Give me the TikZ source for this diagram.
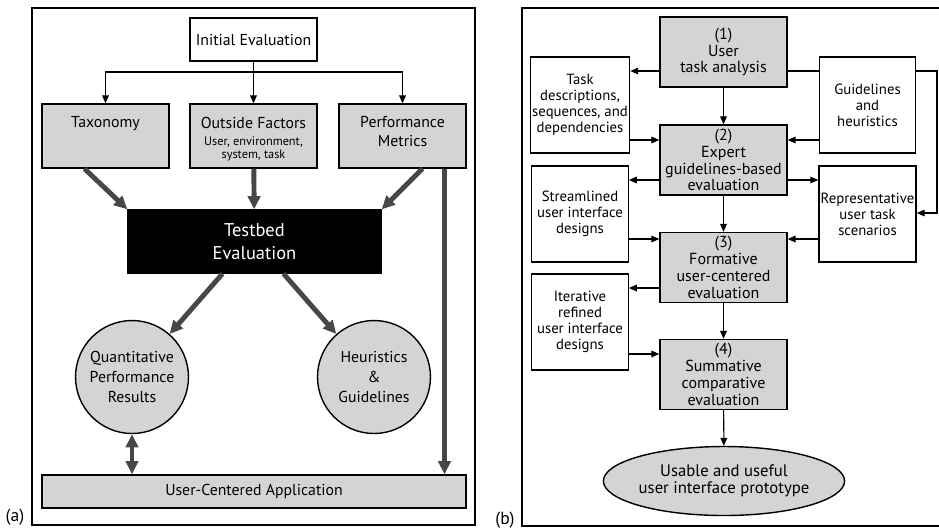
\documentclass[tikz,border=0pt]{standalone}
\usepackage{fontspec}
\setmainfont{PT Sans}
\usetikzlibrary{arrows.meta, calc, shapes.geometric}

\definecolor{boxgray}{gray}{0.83}
\definecolor{arrowgray}{gray}{0.28}

\newcommand{\factorfont}{\fontsize{7}{7.6}\selectfont}

\tikzset{%
  % Specifications for style of nodes:
         base/.style = {rectangle, draw = black, line width=0.8pt, align=center, inner sep=1pt, font=\fontsize{9}{10.8}\selectfont},
       topbox/.style 2 args = {base, fill=boxgray, minimum width=2.54cm, minimum height=1.28cm, text height=#1, text depth=#2},
      testbox/.style = {base, fill=black, text=white, minimum width=5.06cm, minimum height=1.26cm, font=\fontsize{10.5}{13}\selectfont},
      roundbox/.style = {circle, draw = black, line width=0.8pt, fill=boxgray, align=center, inner sep=0pt, minimum size=2.26cm, font=\fontsize{9}{11.4}\selectfont},
      stepbox/.style = {base, fill=boxgray, minimum width=2.54cm, minimum height=1.4cm, font=\fontsize{9.1}{9.6}\selectfont},
      notebox/.style = {base, fill=white, minimum width=1.93cm, minimum height=1.92cm, font=\fontsize{8.4}{9.1}\selectfont},
  % Specifications for style of arrows:
    thinarrow/.style = {-{Triangle[length=4.5pt, width=3.8pt]}, line width=0.6pt},
     thinline/.style = {line width=0.6pt},
     fatarrow/.style = {-{Triangle[length=7.5pt, width=7pt]}, line width=2.8pt, draw=arrowgray},
    fatarrows/.style = {{Triangle[length=7.5pt, width=7pt]}-{Triangle[length=7.5pt, width=7pt]}, line width=2.8pt, draw=arrowgray},
}

\begin{document}
\begin{tikzpicture}[x=0.02cm, y=-0.02cm]
    \useasboundingbox (0,0) rectangle (939,529);

    % Draw frames
    \draw[line width=0.8pt] (32,8) rectangle (475,525);
    \draw[line width=0.8pt] (939,8) -- (522,8) -- (522,526) -- (939,526);

    % Draw nodes (a)
    \node (init)   [base, minimum width=2.54cm, minimum height=0.86cm] at (253.5,39.5) {Initial Evaluation};
    \node (tax)    [topbox={7pt}{16.2pt}] at (105.5,136) {Taxonomy};
    \node (out)    [topbox={26.2pt}{1pt}] at (253.5,136) {Outside Factors\\[-1pt]\factorfont User, environment,\\[-3.5pt]\factorfont system, task};
    \node (perf)   [topbox={19pt}{6.6pt}] at (402.5,136) {Performance\\Metrics};
    \node (tb)     [testbox] at (254.5,241.5) {Testbed\\Evaluation};
    \node (quant)  [roundbox] at (132,377) {Quantitative\\Performance\\Results};
    \node (heur)   [roundbox] at (374,377) {Heuristics\\\&\\Guidelines};
    \node (uca)    [base, fill=boxgray, minimum width=8.48cm, minimum height=0.66cm] at (254,491.5) {User-Centered Application};
    \node (lblA)   [font=\fontsize{10}{12}\selectfont, inner sep=0pt] at (15,517) {(a)};

    % Draw arrows (a)
    \coordinate (split) at (253.5,72);
    \draw[thinarrow] (init) -- (out);
    \draw[thinarrow] (split) -| (tax);
    \draw[thinarrow] (split) -| (perf);

    \draw[fatarrow] ($(tax.south)+(-21,0)$) -- (tb.north west);
    \draw[fatarrow] (out) -- (tb);
    \draw[fatarrow] ($(perf.south)+(20,0)$) -- (tb.north east);
    \coordinate (pm) at ($(perf.south)+(42,0)$);
    \draw[fatarrow] (pm) -- (pm |- uca.north);
    \draw[fatarrow] ($(tb.south)+(-32,0)$) -- (quant);
    \draw[fatarrow] ($(tb.south)+(29,0)$) -- (heur);
    \draw[fatarrows] (quant) -- (quant |- uca.north);

    % Draw nodes (b)
    \node (b1)     [stepbox] at (723.5,52)    {(1)\\User\\task analysis};
    \node (b2)     [stepbox] at (723.5,160)   {(2)\\Expert\\guidelines-based\\evaluation};
    \node (b3)     [stepbox] at (723.5,267.5) {(3)\\Formative\\user-centered\\evaluation};
    \node (b4)     [stepbox] at (723.5,374.5) {(4)\\Summative\\comparative\\evaluation};
    \node (task)   [notebox] at (580,105)   {Task\\descriptions,\\sequences, and\\dependencies};
    \node (guide)  [notebox] at (867.5,105) {Guidelines\\and\\heuristics};
    \node (stream) [notebox] at (580,214)   {Streamlined\\user interface\\designs};
    \node (rep)    [notebox] at (867.5,214) {Representative\\user task\\scenarios};
    \node (iter)   [notebox] at (580,322)   {Iterative\\refined\\user interface\\designs};
    \node (proto)  [ellipse, draw = black, line width=0.8pt, fill=boxgray, align=center, inner sep=0pt,
                    minimum width=3.86cm, minimum height=1.38cm, font=\fontsize{9.5}{9.6}\selectfont] at (724,481)
                   {Usable and useful\\user interface prototype};
    \node (lblB)   [font=\fontsize{10}{12}\selectfont, inner sep=0pt] at (505,520) {(b)};

    % Draw arrows (b)
    \coordinate (turn) at (937,71);
    \draw[thinarrow] (b1.west |- 0,71) -- (task.east |- 0,71);
    \draw[thinline]  (b1.east |- 0,71) -- (guide.west |- 0,71);
    \draw[thinarrow] (guide.east |- turn) -- (turn) |- (rep.east |- 0,213);
    \draw[thinarrow] (b1) -- (b2);
    \draw[thinarrow] (task.east |- 0,140) -- (b2.west |- 0,140);
    \draw[thinarrow] (guide.west |- 0,140) -- (b2.east |- 0,140);
    \draw[thinarrow] (b2.west |- 0,180) -- (stream.east |- 0,180);
    \draw[thinarrow] (b2.east |- 0,180) -- (rep.west |- 0,180);
    \draw[thinarrow] (b2) -- (b3);
    \draw[thinarrow] (stream.east |- 0,239) -- (b3.west |- 0,239);
    \draw[thinarrow] (rep.west |- 0,239) -- (b3.east |- 0,239);
    \draw[thinarrow] (b3.west |- 0,288) -- (iter.east |- 0,288);
    \draw[thinarrow] (b3) -- (b4);
    \draw[thinarrow] (iter.east |- 0,354) -- (b4.west |- 0,354);
    \draw[thinarrow] (b4) -- (proto);
\end{tikzpicture}
\end{document}
